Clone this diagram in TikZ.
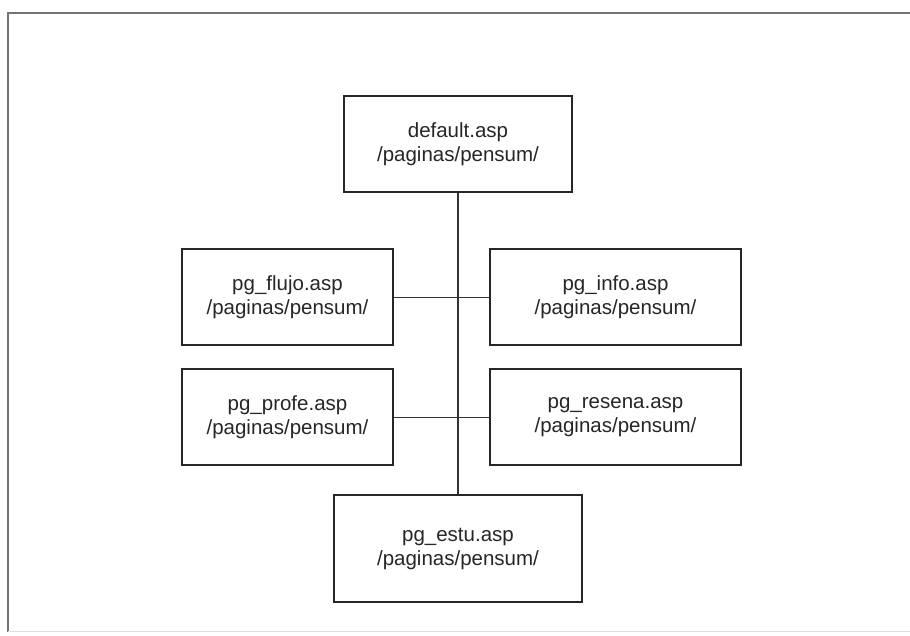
\documentclass[tikz,border=0pt]{standalone}
\usepackage{fontspec}
\setmainfont{Liberation Sans}
\begin{document}
\begin{tikzpicture}[x=1pt,y=-1pt,
  page/.style={draw=black!85,line width=1.3pt,align=center,inner sep=0pt,
    font=\fontsize{20.5}{24}\selectfont,text=black!85},
  link/.style={draw=black!80,line width=1.1pt},
  frame/.style={draw=black!55,line width=1.3pt}]
\useasboundingbox (0,0) rectangle (910,635);
\draw[frame] (8,632) -- (8,13) -- (910,13);
\draw[draw=black!12,line width=1pt] (8,631) -- (910,631);
\node[page,minimum width=228pt,minimum height=96pt] (def) at (458,144) {default.asp\\/paginas/pensum/};
\node[page,minimum width=211pt,minimum height=96pt] (flujo) at (287.5,297) {pg\_flujo.asp\\/paginas/pensum/};
\node[page,minimum width=251pt,minimum height=96pt] (info) at (615.5,297) {pg\_info.asp\\/paginas/pensum/};
\node[page,minimum width=211pt,minimum height=96pt] (profe) at (287.5,417) {pg\_profe.asp\\/paginas/pensum/};
\node[page,minimum width=251pt,minimum height=96pt] (resena) at (615.5,417) {pg\_resena.asp\\/paginas/pensum/};
\node[page,minimum width=248pt,minimum height=107pt] (estu) at (458,548.5) {pg\_estu.asp\\/paginas/pensum/};
\draw[link] (def.south) -- (estu.north);
\draw[link,line width=0.8pt] (flujo.east) -- (info.west);
\draw[link,line width=0.8pt] (profe.east) -- (resena.west);
\end{tikzpicture}
\end{document}
